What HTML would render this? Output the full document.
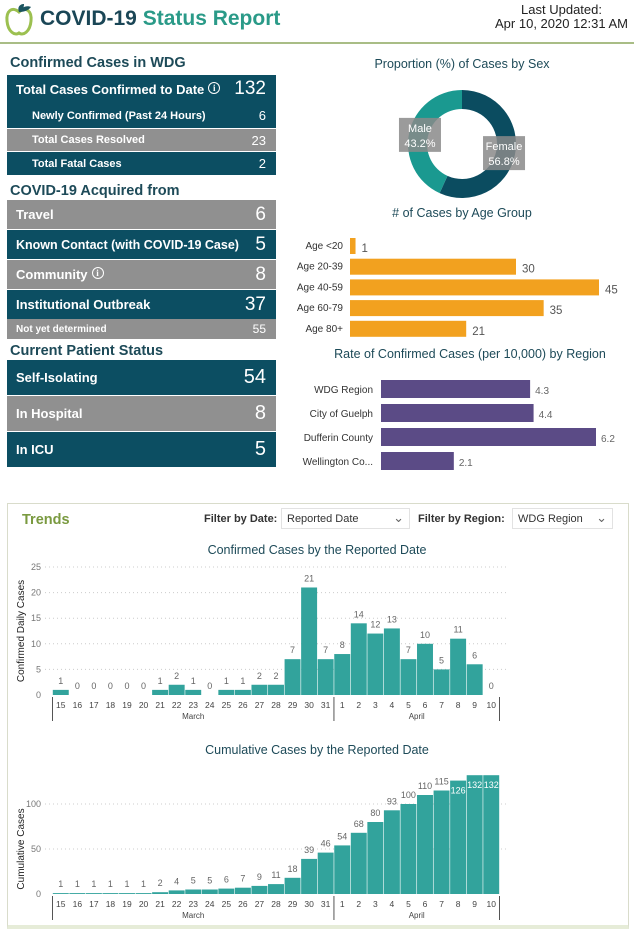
<!DOCTYPE html>
<html><head><meta charset="utf-8">
<style>
*{margin:0;padding:0;box-sizing:border-box}
body{width:634px;height:935px;background:#fff;font-family:"Liberation Sans",sans-serif;position:relative;overflow:hidden}
.a{position:absolute}
.row{position:absolute;left:7px;width:269px;color:#fff;font-weight:bold;display:flex;align-items:center;justify-content:space-between;padding:0 10px 0 9px}
.d{background:#0c4e62}.g{background:#909090}
.v{font-weight:normal;font-family:"Liberation Sans Narrow","Liberation Sans",sans-serif}
.h{position:absolute;left:10px;font-weight:bold;font-size:14.5px;color:#1d4a58}
.info{display:inline-block;width:12px;height:12px;border:1.3px solid #fff;border-radius:50%;font-size:9px;text-align:center;line-height:10px;vertical-align:top;margin-left:4px;font-family:"Liberation Serif",serif}
</style></head><body>
<div class="a" style="left:0;top:0;width:634px;height:44px;border-bottom:2px solid #a9bd86">
 <svg class="a" style="left:4px;top:2px" width="30" height="36"><path d="M15 10 C8 4,2 9,3 19 C4 30,11 34,15 31 C19 34,26 30,27 19 C28 9,22 4,15 10Z" fill="none" stroke="#9cc050" stroke-width="3"/><path d="M15 10 C13 5,16 2,20 2 C20 6,18 9,15 10Z" fill="#1c5560"/><path d="M15 10 C17 5,23 3,27 5 C24 9,19 10,15 10Z" fill="#1c5560"/></svg>
 <div class="a" style="left:40px;top:7px;font-size:21px;font-weight:bold;color:#1a4656">COVID-19 <span style="color:#2a9a88">Status Report</span></div>
 <div class="a" style="right:6px;top:3px;font-size:13px;color:#222;text-align:center;line-height:14px">Last Updated:<br>Apr 10, 2020 12:31 AM</div>
</div>

<div class="h" style="top:55px">Confirmed Cases in WDG</div>
<div class="row d" style="top:75px;height:28px;font-size:13px"><span>Total Cases Confirmed to Date<span class="info">i</span></span><span class="v" style="font-size:19px">132</span></div>
<div class="row d" style="top:103px;height:25px;font-size:11px;padding-left:25px"><span>Newly Confirmed (Past 24 Hours)</span><span class="v" style="font-size:13px">6</span></div>
<div class="row g" style="top:129px;height:22px;font-size:11px;padding-left:25px"><span>Total Cases Resolved</span><span class="v" style="font-size:13px">23</span></div>
<div class="row d" style="top:152px;height:23px;font-size:11px;padding-left:25px"><span>Total Fatal Cases</span><span class="v" style="font-size:13px">2</span></div>

<div class="h" style="top:183px">COVID-19 Acquired from</div>
<div class="row g" style="top:200px;height:29px;font-size:13px"><span>Travel</span><span class="v" style="font-size:19px">6</span></div>
<div class="row d" style="top:230px;height:29px;font-size:12.5px"><span>Known Contact (with COVID-19 Case)</span><span class="v" style="font-size:19px">5</span></div>
<div class="row g" style="top:260px;height:29px;font-size:13px"><span>Community<span class="info">i</span></span><span class="v" style="font-size:19px">8</span></div>
<div class="row d" style="top:290px;height:29px;font-size:13px"><span>Institutional Outbreak</span><span class="v" style="font-size:19px">37</span></div>
<div class="row g" style="top:319px;height:20px;font-size:10px"><span>Not yet determined</span><span class="v" style="font-size:12px">55</span></div>

<div class="h" style="top:343px">Current Patient Status</div>
<div class="row d" style="top:360px;height:35px;font-size:13px"><span>Self-Isolating</span><span class="v" style="font-size:20px">54</span></div>
<div class="row g" style="top:396px;height:35px;font-size:13px"><span>In Hospital</span><span class="v" style="font-size:20px">8</span></div>
<div class="row d" style="top:432px;height:35px;font-size:13px"><span>In ICU</span><span class="v" style="font-size:20px">5</span></div>

<div class="a" style="left:7px;top:503px;width:622px;height:426px;border:1px solid #d9dccb;border-bottom:4px solid #e6ecd8"></div>
<div class="a" style="left:22px;top:512px;font-size:14.5px;font-weight:bold;color:#7a9a40">Trends</div>
<div class="a" style="left:204px;top:513px;font-size:11px;font-weight:bold;color:#333">Filter by Date:</div>
<div class="a" style="left:281px;top:508px;width:129px;height:21px;border:1px solid #e2e2e2;font-size:11px;color:#333;padding:4px 5px">Reported Date<span style="position:absolute;right:5px;top:1px;font-size:13px;color:#666">&#8964;</span></div>
<div class="a" style="left:418px;top:513px;font-size:11px;font-weight:bold;color:#333">Filter by Region:</div>
<div class="a" style="left:512px;top:508px;width:101px;height:21px;border:1px solid #e2e2e2;font-size:11px;color:#333;padding:4px 5px">WDG Region<span style="position:absolute;right:5px;top:1px;font-size:13px;color:#666">&#8964;</span></div>

<svg id="chart" class="a" style="left:0;top:0" width="634" height="935" font-family="Liberation Sans, sans-serif"></svg>

<script>
const sexLabels=["Female","Male"];
const sexValues=[56.8,43.2];
const ageLabels=["Age <20","Age 20-39","Age 40-59","Age 60-79","Age 80+"];
const ageValues=[1,30,45,35,21];
const regionLabels=["WDG Region","City of Guelph","Dufferin County","Wellington Co..."];
const regionValues=[4.3,4.4,6.2,2.1];
const dayLabels=["15","16","17","18","19","20","21","22","23","24","25","26","27","28","29","30","31","1","2","3","4","5","6","7","8","9","10"];
const dailyValues=[1,0,0,0,0,0,1,2,1,0,1,1,2,2,7,21,7,8,14,12,13,7,10,5,11,6,0];
const cumValues=[1,1,1,1,1,1,2,4,5,5,6,7,9,11,18,39,46,54,68,80,93,100,110,115,126,132,132];
const dailyTicks=[0,5,10,15,20,25];
const cumTicks=[0,50,100];

const svg=document.getElementById('chart');
const NS="http://www.w3.org/2000/svg";
function mk(tag,attrs,text){const e=document.createElementNS(NS,tag);for(const k in attrs)e.setAttribute(k,attrs[k]);if(text!==undefined)e.textContent=text;svg.appendChild(e);return e;}
function title(x,y,t,name){const e=mk('text',{x:x,y:y,'text-anchor':'middle','font-size':12.5,fill:'#1d4a58'},t);

}

// Donut
title(462,68,"Proportion (%) of Cases by Sex","sex-chart-title");
const cx=462,cy=144,R=54,r=35;
const sexColors=["#0b4c60","#1a9990"];
let ang=0;const tot=sexValues.reduce((a,b)=>a+b,0);
sexValues.forEach((v,i)=>{
 const a0=ang,a1=ang+v/tot*2*Math.PI;ang=a1;
 const p=(a,rad)=>[cx+rad*Math.sin(a),cy-rad*Math.cos(a)];
 const large=(a1-a0)>Math.PI?1:0;
 const [x0,y0]=p(a0,R),[x1,y1]=p(a1,R),[x2,y2]=p(a1,r),[x3,y3]=p(a0,r);
 const e=mk('path',{d:`M${x0} ${y0}A${R} ${R} 0 ${large} 1 ${x1} ${y1}L${x2} ${y2}A${r} ${r} 0 ${large} 0 ${x3} ${y3}Z`,fill:sexColors[i]});
 
 
 const mid=(a0+a1)/2;const [lx,ly]=p(mid,43);
 const b=mk('rect',{x:lx-21,y:ly-17,width:42,height:34,fill:'#8a8a8a','fill-opacity':0.85});
 
 
 const t1=mk('text',{x:lx,y:ly-3,'text-anchor':'middle','font-size':11,fill:'#fff'},sexLabels[i]);
 
 
 const t2=mk('text',{x:lx,y:ly+12,'text-anchor':'middle','font-size':11,fill:'#fff'},v.toFixed(1)+"%");
 
 
});

// Age bars
title(462,217,"# of Cases by Age Group","age-chart-title");
const ageX0=350,ageScale=249/45,ageY0=246,ageStep=20.7,ageH=16;
ageValues.forEach((v,i)=>{
 const y=ageY0+i*ageStep;const w=v*ageScale;
 const b=mk('rect',{x:ageX0,y:y-ageH/2,width:w,height:ageH,fill:'#f2a11f'});
 
 
 const l=mk('text',{x:343,y:y+3,'text-anchor':'end','font-size':10,fill:'#333'},ageLabels[i]);
 
 
 const t=mk('text',{x:ageX0+w+6,y:y+6,'font-size':11.5,fill:'#555'},v);
 
 
});

// Region bars
title(470,358,"Rate of Confirmed Cases (per 10,000) by Region","region-chart-title");
const rgX0=381,rgScale=215/6.2,rgY0=389,rgStep=24,rgH=18;
regionValues.forEach((v,i)=>{
 const y=rgY0+i*rgStep;const w=v*rgScale;
 const b=mk('rect',{x:rgX0,y:y-rgH/2,width:w,height:rgH,fill:'#5b4b86'});
 
 
 const l=mk('text',{x:373,y:y+4,'text-anchor':'end','font-size':10,fill:'#333'},regionLabels[i]);
 
 
 const t=mk('text',{x:rgX0+w+5,y:y+5,'font-size':10,fill:'#666'},v.toFixed(1));
 
 
});

// Column charts
const xL=52.5,xR=499.5;const step=(xR-xL)/dayLabels.length;
function xc(i){return xL+step*(i+0.5);}
function columns(vals,ticks,y0,scale,yTitle,titleY,ttl,name,inside){
 title(317,titleY,ttl,name+'-title');
 ticks.forEach(t=>{const y=y0-t*scale;
  if(t>0){const g=mk('line',{x1:45,x2:506,y1:y,y2:y,stroke:'#ccc','stroke-dasharray':'1 3'});
  
  }
  const l=mk('text',{x:41,y:y+3,'text-anchor':'end','font-size':9,fill:'#777'},t);
  
  
 });
 const midY=y0-(ticks[ticks.length-1]*scale)/2;
 const yt=mk('text',{x:24,y:midY,'text-anchor':'middle','font-size':10,fill:'#222',transform:`rotate(-90 24 ${midY})`},yTitle);
 
 
 vals.forEach((v,i)=>{
  const h=v*scale;
  if(v>0){const b=mk('rect',{x:xc(i)-step/2+0.3,y:y0-h,width:step-0.6,height:h,fill:'#32a39c'});
  
  }
  const ins=inside&&v>=inside;
  const t=mk('text',{x:xc(i),y:ins?y0-h+13:y0-h-6,'text-anchor':'middle','font-size':9,fill:ins?'#fff':'#666'},v);
  
  
  const xl=mk('text',{x:xc(i),y:y0+13,'text-anchor':'middle','font-size':8.5,fill:'#444'},dayLabels[i]);
  
  
 });
 [xL,xL+step*17,xR].forEach(x=>{const s=mk('line',{x1:x,x2:x,y1:y0+2,y2:y0+26,stroke:'#555','stroke-width':1});
 
 });
 const m1=mk('text',{x:xL+step*8.5,y:y0+24,'text-anchor':'middle','font-size':8,fill:'#444'},"March");
 
 
 const m2=mk('text',{x:xL+step*22,y:y0+24,'text-anchor':'middle','font-size':8,fill:'#444'},"April");
 
 
}
columns(dailyValues,dailyTicks,695,128/25,"Confirmed Daily Cases",554,"Confirmed Cases by the Reported Date","daily",0);
columns(cumValues,cumTicks,894,0.9,"Cumulative Cases",754,"Cumulative Cases by the Reported Date","cumulative",120);
</script>
</body></html>
